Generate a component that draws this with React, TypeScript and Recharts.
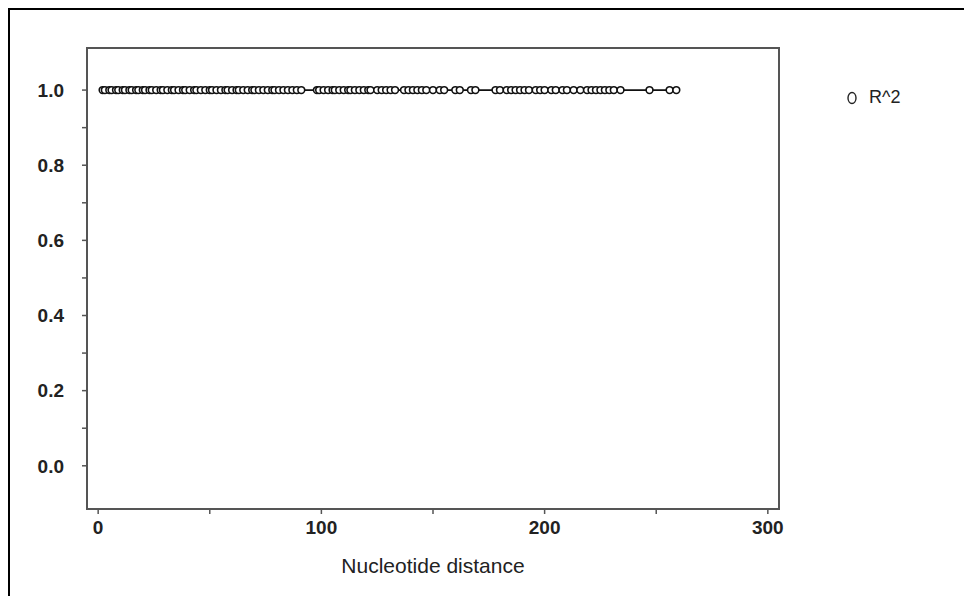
import { LineChart, Line, XAxis, YAxis, Legend, Label, ReferenceArea } from "recharts";

// nucleotide distance of each pair
const distances = [
  2, 3, 5, 6, 8, 9, 11, 12, 14, 15, 17, 18, 20, 21, 23, 24, 26, 28, 29, 31, 33, 34, 36, 38, 39, 41, 43,
  44, 46, 48, 50, 51, 53, 55, 57, 58, 60, 62, 63, 65, 67, 69, 70, 72, 74, 76, 78, 79, 81, 83, 85, 87, 89, 91,
  98, 99, 101, 103, 105, 106, 108, 110, 112, 113, 115, 117, 119, 121, 122,
  125, 127, 129, 131, 133,
  137, 139, 141, 143, 145, 147, 150, 153, 155, 160, 162, 167, 169,
  178, 180, 183, 185, 187, 189, 191, 193, 196, 198, 200, 203, 205, 208, 210, 213, 216, 219,
  221, 223, 225, 227, 229, 231, 234, 247, 256, 259,
];

// R^2 for each distance
const rSquared = [
  1, 1, 1, 1, 1, 1, 1, 1, 1, 1, 1, 1, 1, 1, 1, 1, 1, 1, 1, 1, 1, 1, 1,
  1, 1, 1, 1, 1, 1, 1, 1, 1, 1, 1, 1, 1, 1, 1, 1, 1, 1, 1, 1, 1, 1, 1,
  1, 1, 1, 1, 1, 1, 1, 1, 1, 1, 1, 1, 1, 1, 1, 1, 1, 1, 1, 1, 1, 1, 1,
  1, 1, 1, 1, 1, 1, 1, 1, 1, 1, 1, 1, 1, 1, 1, 1, 1, 1, 1, 1, 1, 1, 1,
  1, 1, 1, 1, 1, 1, 1, 1, 1, 1, 1, 1, 1, 1, 1, 1, 1, 1, 1, 1, 1, 1, 1,
];

const xTicks = [0, 50, 100, 150, 200, 250, 300];
const xTickLabels = ["0", "", "100", "", "200", "", "300"];
const yTicks = [0, 0.1, 0.2, 0.3, 0.4, 0.5, 0.6, 0.7, 0.8, 0.9, 1.0];
const yTickLabels = ["0.0", "", "0.2", "", "0.4", "", "0.6", "", "0.8", "", "1.0"];
const seriesName = "R^2";
const xTitle = "Nucleotide distance";

const xDomain: [number, number] = [-5, 305];
const yDomain: [number, number] = [-0.115, 1.112];

const data = distances.map((d, i) => ({ distance: d, r2: rSquared[i] }));

const tickFont = {
  fontFamily: "'Liberation Sans', Arial, sans-serif",
  fontWeight: 700,
  fontSize: 19,
  fill: "#222",
};
const frame = "#555";

function LegendBox() {
  return (
    <div style={{ display: "flex", alignItems: "center", fontFamily: "'Liberation Sans', Arial, sans-serif", fontSize: 18, color: "#222" }}>
      <svg width={14} height={16} style={{ marginRight: 10 }}>
        <ellipse cx={7} cy={8} rx={4} ry={5.5} fill="none" stroke="#222" strokeWidth={1.4} />
      </svg>
      <span>{seriesName}</span>
    </div>
  );
}

export default function App() {
  return (
    <div style={{ width: 956, height: 590, border: "2px solid #000", background: "#fff" }}>
      <LineChart width={950} height={586} data={data} margin={{ top: 38, right: 181, bottom: 21, left: 17 }}>
        <XAxis
          xAxisId="main"
          dataKey="distance"
          type="number"
          domain={xDomain}
          ticks={xTicks}
          tickFormatter={(v: number) => xTickLabels[xTicks.indexOf(v)] ?? ""}
          interval={0}
          height={66}
          tickSize={5}
          tickMargin={7}
          tick={tickFont}
          axisLine={{ stroke: frame, strokeWidth: 2 }}
          tickLine={{ stroke: frame, strokeWidth: 1.5 }}
        >
          <Label
            value={xTitle}
            position="insideBottom"
            offset={2}
            style={{ fontFamily: "'Liberation Sans', Arial, sans-serif", fontSize: 21, fill: "#222" }}
          />
        </XAxis>
        <YAxis
          yAxisId="main"
          type="number"
          domain={yDomain}
          ticks={yTicks}
          tickFormatter={(v: number) => yTickLabels[yTicks.findIndex((t) => Math.abs(t - v) < 1e-6)] ?? ""}
          interval={0}
          width={60}
          tickSize={5}
          tickMargin={18}
          tick={tickFont}
          axisLine={{ stroke: frame, strokeWidth: 2 }}
          tickLine={{ stroke: frame, strokeWidth: 1.5 }}
        />
        {/* plot frame */}
        <ReferenceArea
          xAxisId="main"
          yAxisId="main"
          x1={xDomain[0]}
          x2={xDomain[1]}
          y1={yDomain[0]}
          y2={yDomain[1]}
          fill="none"
          fillOpacity={0}
          stroke={frame}
          strokeWidth={2}
        />
        <Legend
          layout="vertical"
          align="center"
          verticalAlign="middle"
          content={() => <LegendBox />}
          wrapperStyle={{ left: 835, top: 77, width: 100 }}
        />
        <Line
          xAxisId="main"
          yAxisId="main"
          type="linear"
          dataKey="r2"
          name={seriesName}
          stroke="#111"
          strokeWidth={1.6}
          dot={{ r: 3.4, stroke: "#111", strokeWidth: 1.6, fill: "#fff" }}
          isAnimationActive={false}
        />
      </LineChart>
    </div>
  );
}
